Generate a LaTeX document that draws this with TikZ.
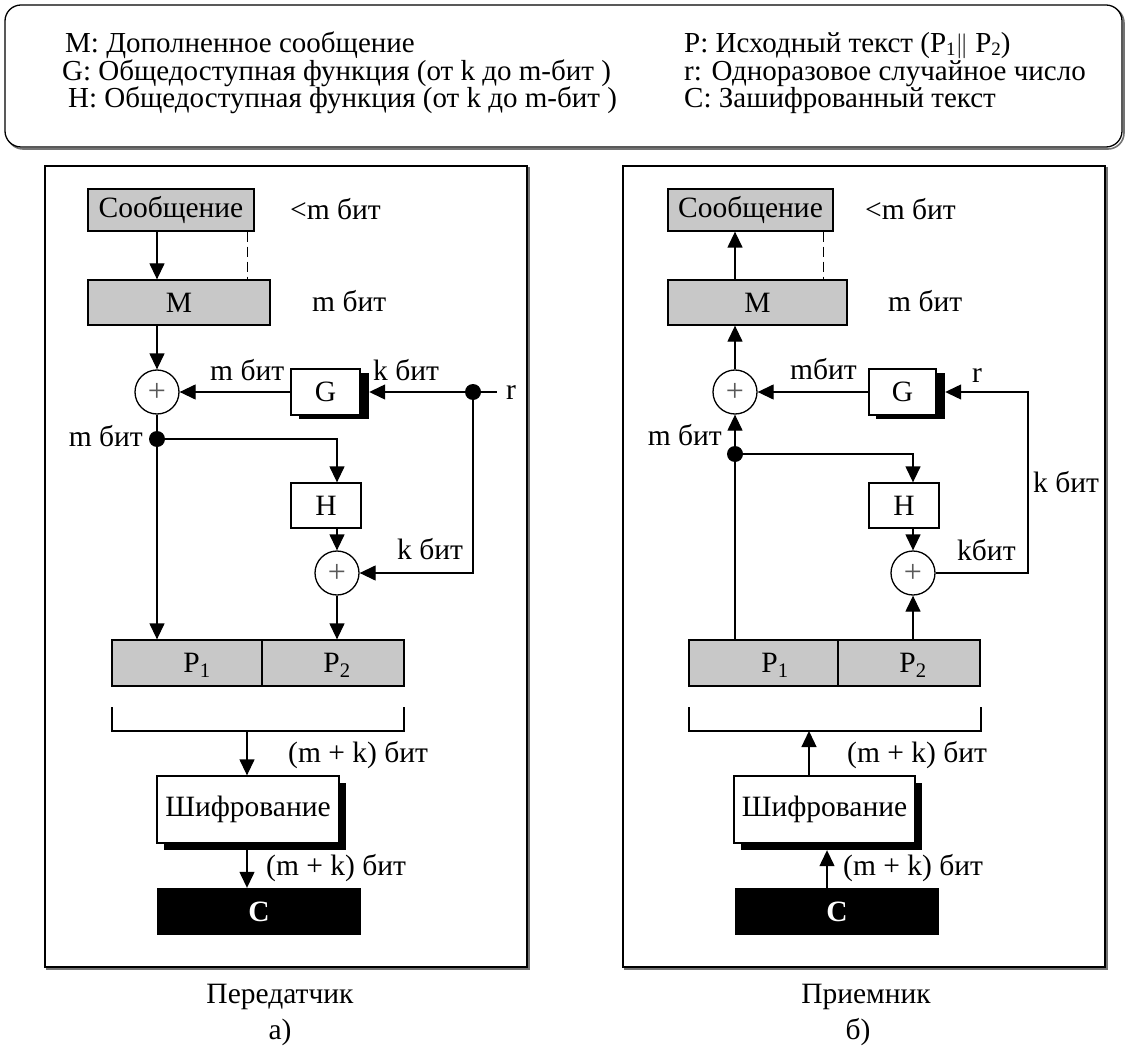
\documentclass[tikz,border=0pt]{standalone}
\usepackage{fontspec}
\setmainfont{Liberation Serif}
\usetikzlibrary{arrows.meta,calc}
\definecolor{boxgray}{RGB}{200,200,200}
\newcommand\ft{\fontsize{29.5}{29.5}\selectfont}
\newcommand\lgft{\fontsize{29}{29}\selectfont}
\newcommand\lsub[1]{\raisebox{-3pt}{\fontsize{19}{19}\selectfont #1}}
\begin{document}
\begin{tikzpicture}[x=1pt,y=-1pt,
  every node/.style={font=\ft},
  ln/.style={line width=1.3pt},
  arr/.style={ln,-{Triangle[length=16pt,width=15pt]}},
  gbox/.style={draw,ln,fill=boxgray,inner sep=0pt,rectangle},
  wbox/.style={draw,ln,fill=white,inner sep=0pt,rectangle},
  shad/.style={fill=black,draw=none,inner sep=0pt,rectangle},
  xorn/.style={circle,draw,ln,minimum size=44pt,inner sep=0pt,fill=white,font=\fontsize{32}{32}\selectfont\color{black!65}},
  dotn/.style={circle,fill=black,minimum size=16pt,inner sep=0pt},
  lbl/.style={inner sep=0pt,anchor=base west},
  lble/.style={inner sep=0pt,anchor=base east},
  lgd/.style={inner sep=0pt,anchor=base west,font=\lgft},
  frm/.style={line width=1.4pt},
]
\useasboundingbox (0,0) rectangle (1126,1048);
\fill[white] (0,0) rectangle (1126,1048);

% ---------- legend ----------
\draw[line width=1.6pt,black!55,rounded corners=16pt] (7,7) rectangle (1124,149);
\draw[line width=1.3pt,rounded corners=16pt,fill=white] (5,5) rectangle (1122,147);
\node[lgd] (l1) at (65,53) {M: Дополненное сообщение};
\node[lgd] (l2) at (62,81) {G: Общедоступная функция (от k до m-бит )};
\node[lgd] (l3) at (68,108) {H: Общедоступная функция (от k до m-бит )};
\node[lgd] (l4) at (684,53) {P: Исходный текст (P\lsub{1}$\|$ P\lsub{2})};
\node[lgd] (l5) at (684,81) {r: Одноразовое случайное число};
\node[lgd] (l6) at (684,108) {C: Зашифрованный текст};

% ---------- frames ----------
\draw[line width=1.6pt,black!55] (47,168) rectangle (529,969);
\draw[frm,fill=white] (45,166) rectangle (527,967);
\draw[line width=1.6pt,black!55] (625,168) rectangle (1107,969);
\draw[frm,fill=white] (623,166) rectangle (1105,967);

% ================= LEFT (transmitter) =================
\node[gbox,minimum width=166pt,minimum height=42pt] (msgL) at (171,210) {Сообщение};
\node[gbox,minimum width=182pt,minimum height=45pt] (ML) at (179,302.5) {M};
\node[xorn] (xL1) at (157,392) {+};
\node[shad,minimum width=70pt,minimum height=46pt] (GLs) at (334,396) {};
\node[wbox,minimum width=69pt,minimum height=46pt] (GL) at (325.5,392) {G};
\node[dotn] (rL) at (473,392) {};
\coordinate (rendL) at (497,392);
\node[lbl] (rlabL) at (506,399) {r};
\node[dotn] (dL) at (157,439) {};
\node[wbox,minimum width=70pt,minimum height=45pt] (HL) at (326,505.5) {H};
\node[xorn] (xL2) at (337,573) {+};
\node[gbox,minimum width=150pt,minimum height=46pt] (P1L) at (187,663) {};
\node[gbox,minimum width=142pt,minimum height=46pt] (P2L) at (333,663) {};
\node (p1tL) at (197,665) {P\textsubscript{1}};
\node (p2tL) at (337,665) {P\textsubscript{2}};
\coordinate (b1L) at (112,707);
\coordinate (b2L) at (404,707);
\coordinate (bmL) at (247,731);
\node[shad,minimum width=182pt,minimum height=67pt] (EncLs) at (255,816.5) {};
\node[wbox,minimum width=182pt,minimum height=67pt] (EncL) at (248,809.5) {Шифрование};
\node[shad,minimum width=204pt,minimum height=47pt,text=white] (CL) at (259,911.5) {\textbf{C}};

\draw[arr] (msgL.south -| xL1) -- (ML.north -| xL1);
\draw[ln,dashed,dash pattern=on 10pt off 5pt] ([xshift=-7pt]msgL.south east) -- ([xshift=-7pt]msgL.south east |- ML.north);
\draw[arr] (ML.south -| xL1) -- (xL1.north);
\draw[arr] (GL.west) -- (xL1.east);
\draw[arr] (rL) -- (GLs.east |- rL);
\draw[ln] (rL) -- (rendL);
\draw[arr] (rL) |- (xL2.east);
\draw[ln] (xL1.south) -- (dL);
\draw[arr] (dL) -| (xL2 |- HL.north);
\draw[arr] (xL2 |- HL.south) -- (xL2.north);
\draw[arr] (dL) -- (dL |- P1L.north);
\draw[arr] (xL2.south) -- (xL2 |- P2L.north);
\draw[ln] (b1L) -- (b1L |- bmL) -- (b2L |- bmL) -- (b2L);
\draw[arr] (bmL) -- (bmL |- EncL.north);
\draw[arr] (bmL |- EncLs.south) -- (bmL |- CL.north);

\node[lbl] at (290,220) {<m бит};
\node[lbl] at (312,312) {m бит};
\node[lbl] at (210,380) {m бит};
\node[lbl] at (373,380) {k бит};
\node[lble] at (143,446) {m бит};
\node[lbl] at (397,559) {k бит};
\node[lbl] at (288,762) {(m + k) бит};
\node[lbl] at (266,875) {(m + k) бит};
\node (capL) at (280,997) {Передатчик};
\node (subL) at (280,1032) {а)};

% ================= RIGHT (receiver) =================
\node[gbox,minimum width=165pt,minimum height=42pt] (msgR) at (750.5,210) {Сообщение};
\node[gbox,minimum width=179pt,minimum height=45pt] (MR) at (757.5,302.5) {M};
\node[xorn] (xR1) at (735,392) {+};
\node[shad,minimum width=69pt,minimum height=46pt] (GRs) at (910.5,396) {};
\node[wbox,minimum width=67pt,minimum height=46pt] (GR) at (902.5,392) {G};
\coordinate (cR1) at (1028,392);
\coordinate (cR2) at (1028,573);
\node[dotn] (dR) at (735,454) {};
\node[wbox,minimum width=70pt,minimum height=45pt] (HR) at (904,505.5) {H};
\node[xorn] (xR2) at (913,573) {+};
\node[gbox,minimum width=149pt,minimum height=46pt] (P1R) at (763.5,663) {};
\node[gbox,minimum width=142pt,minimum height=46pt] (P2R) at (909,663) {};
\node (p1tR) at (775,665) {P\textsubscript{1}};
\node (p2tR) at (913,665) {P\textsubscript{2}};
\coordinate (b1R) at (689,707);
\coordinate (b2R) at (981,707);
\coordinate (bmR) at (809,731);
\node[shad,minimum width=181pt,minimum height=67pt] (EncRs) at (831.5,816.5) {};
\node[wbox,minimum width=181pt,minimum height=67pt] (EncR) at (824.5,809.5) {Шифрование};
\node[shad,minimum width=204pt,minimum height=47pt,text=white] (CR) at (837,911.5) {\textbf{C}};
\coordinate (aR) at (827,888);

\draw[arr] (MR.north -| xR1) -- (msgR.south -| xR1);
\draw[ln,dashed,dash pattern=on 10pt off 5pt] ([xshift=-10pt]msgR.south east) -- ([xshift=-10pt]msgR.south east |- MR.north);
\draw[arr] (xR1.north) -- (MR.south -| xR1);
\draw[arr] (GR.west) -- (xR1.east);
\draw[arr] (xR2.east) -- (cR2) -- (cR1) -- (GRs.east |- cR1);
\draw[arr] (dR) -- (xR1.south);
\draw[arr] (dR) -| (xR2 |- HR.north);
\draw[arr] (xR2 |- HR.south) -- (xR2.north);
\draw[ln] (P1R.north -| dR) -- (dR);
\draw[arr] (xR2 |- P2R.north) -- (xR2.south);
\draw[ln] (b1R) -- (b1R |- bmR) -- (b2R |- bmR) -- (b2R);
\draw[arr] (bmR |- EncR.north) -- (bmR);
\draw[arr] (aR) -- (aR |- EncRs.south);

\node[lbl] at (865,220) {<m бит};
\node[lbl] at (888,312) {m бит};
\node[lbl] at (790,379) {mбит};
\node[lbl] at (972,382) {r};
\node[lble] at (722,445) {m бит};
\node[lbl] at (1033,492) {k бит};
\node[lbl] at (957,560) {kбит};
\node[lbl] at (847,762) {(m + k) бит};
\node[lbl] at (843,875) {(m + k) бит};
\node (capR) at (866,997) {Приемник};
\node (subR) at (858,1032) {б)};
\end{tikzpicture}
\end{document}
